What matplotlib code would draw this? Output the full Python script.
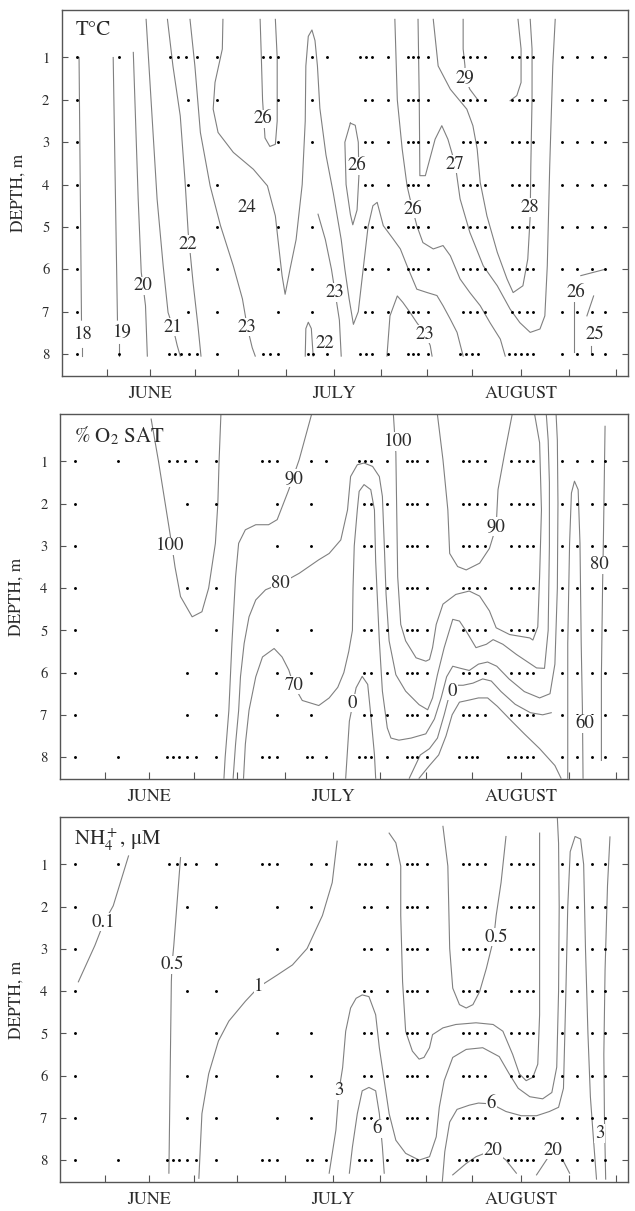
import matplotlib.pyplot as plt

plt.rcParams['font.family'] = ['STIXGeneral', 'DejaVu Serif']
plt.rcParams['mathtext.fontset'] = 'stix'

# x = days after May 31, y = depth (m)
depths = [1, 2, 3, 4, 5, 6, 7, 8]
surface_dates = [4.6, 11.5, 19.9, 21.2, 22.5, 24.3, 27.6, 35.1, 36.2, 37.6, 43.1, 45.6,
                 51.0, 52.0, 53.0, 55.6, 58.9, 59.7, 60.5, 62.1, 67.9, 69.0, 70.2, 71.5,
                 75.9, 77.1, 78.4, 79.4, 84.1, 86.6, 89.0, 91.2]
bottom_dates = [4.6, 11.5, 19.6, 20.6, 21.6, 22.9, 24.3, 27.6, 35.1, 36.2, 37.6, 42.5, 43.3,
                45.6, 51.0, 52.0, 53.0, 55.6, 58.9, 59.7, 60.5, 62.1, 67.4, 68.4, 69.4, 70.3,
                75.4, 76.4, 77.4, 78.4, 79.4, 84.1, 86.6, 89.0, 91.2]
early_dates = {2: [4.6, 22.8, 27.6, 37.6, 43.1],
               3: [4.6, 37.6, 43.1],
               4: [4.6, 22.8, 27.6],
               5: [4.6, 27.6, 37.6, 43.1],
               6: [4.6, 22.8, 27.6, 37.6, 43.1],
               7: [4.6, 22.8, 27.6, 37.6, 43.1]}
late_dates = [51.8, 53.0, 55.6, 58.9, 59.7, 60.5, 62.1, 67.9, 69.0, 70.2, 71.5, 75.9, 77.1,
              78.4, 79.4, 84.1, 86.6, 89.0, 91.2]

month_names = ['JUNE', 'JULY', 'AUGUST']
month_mid = [16.6, 46.7, 77.4]
tick_days = [9.5, 16.6, 24, 31, 38.9, 46.7, 54.4, 62, 69.4, 77.4, 85.3, 93]

# ---- temperature isotherms ----
t18 = [(4.9, 1.0), (5.3, 7.2)]
t18s = [(5.4, 7.85), (5.4, 8.05)]
t19 = [(10.5, 1.0), (11.2, 7.2)]
t19s = [(11.5, 7.77), (11.5, 8.05)]
t20 = [(13.8, 0.88), (14.6, 4.34), (15.1, 6.07), (15.4, 6.39), (15.8, 6.86), (16.1, 8.05)]
t21 = [(15.9, 0.1), (16.7, 1.98), (17.7, 4.34), (18.7, 5.92), (19.5, 7.02), (20.3, 7.37),
       (21.0, 7.8), (21.5, 8.05)]
t22 = [(19.4, 0.1), (20.3, 1.2), (21.5, 2.38), (22.3, 3.95), (22.8, 5.13), (23.6, 6.31),
       (24.4, 7.33), (24.9, 8.05)]
t23 = [(23.1, 0.1), (23.9, 1.2), (24.8, 2.77), (26.4, 4.03), (28.1, 4.97), (30.2, 5.92),
       (31.7, 6.7), (32.5, 7.37), (33.3, 7.85), (33.8, 8.05)]
t24 = [(28.5, 0.1), (28.4, 0.8), (27.2, 1.59), (26.9, 2.22), (27.7, 2.77), (30.2, 3.24),
       (33.5, 3.64), (35.8, 4.03), (37.1, 4.74), (37.7, 5.52), (38.2, 6.15), (38.7, 6.59),
       (39.5, 6.0), (40.5, 5.3), (41.5, 4.0), (42.0, 2.5), (42.1, 1.2), (42.5, 0.5),
       (43.1, 0.35), (43.6, 0.6), (44.0, 1.2), (44.4, 2.2), (45.4, 3.3), (46.6, 4.2),
       (47.9, 5.3), (48.5, 6.0), (49.2, 6.7), (49.9, 7.3), (50.7, 7.0), (51.5, 6.0),
       (52.3, 5.0), (53.1, 4.5), (53.8, 4.42), (54.8, 4.97), (56.4, 5.28), (57.6, 5.52),
       (58.7, 5.92), (60.3, 6.47), (62.0, 6.55), (63.6, 6.62), (64.6, 6.86), (65.8, 7.18),
       (66.9, 7.49), (67.9, 8.05)]
t26a = [(34.6, 0.1), (34.8, 1.0), (35.0, 2.0), (35.4, 2.9), (36.2, 3.1), (37.1, 3.05),
        (37.4, 2.5), (37.4, 1.0), (37.1, 0.1)]
t23b = [(44.1, 4.7), (45.3, 5.3), (46.3, 6.0), (46.9, 6.55), (47.6, 7.2), (47.9, 8.05)]
t22b = [(42.0, 8.05), (42.1, 7.4), (42.5, 7.25), (43.0, 7.4), (43.3, 8.05)]
t26b = [(49.4, 2.55), (48.5, 3.0), (48.7, 4.0), (49.4, 4.7), (49.8, 4.95), (50.5, 4.6),
        (50.8, 3.8), (50.7, 3.0), (50.2, 2.6), (49.4, 2.55)]
t26c = [(56.7, 0.1), (57.1, 2.0), (57.9, 3.16), (58.7, 4.03), (59.2, 4.34), (60.3, 4.97),
        (61.3, 5.37), (63.0, 5.52), (64.6, 5.44), (65.8, 5.68), (67.4, 6.23), (69.0, 6.55),
        (70.7, 6.86), (72.3, 7.26), (74.0, 7.65), (74.8, 8.05)]
t23c = [(55.4, 8.05), (55.9, 7.1), (57.1, 6.63), (58.0, 6.78), (59.2, 7.02), (60.3, 7.26),
        (61.7, 7.53), (62.5, 7.8), (62.8, 8.05)]
t27 = [(60.5, 0.1), (60.7, 1.98), (60.8, 3.79), (61.7, 3.79), (63.3, 2.93), (64.4, 2.61),
       (65.4, 2.93), (66.6, 3.52), (67.4, 4.34), (69.0, 5.13), (71.2, 5.92), (73.5, 6.39),
       (75.6, 6.94), (77.2, 7.26), (78.9, 7.49), (80.5, 7.41), (81.3, 7.1), (81.7, 5.92),
       (82.1, 3.56), (82.6, 1.2), (83.0, 0.1)]
t28 = [(63.0, 0.1), (63.8, 1.2), (65.8, 1.75), (68.5, 2.22), (69.5, 2.61), (70.2, 3.16),
       (70.7, 3.95), (71.8, 4.74), (73.5, 5.6), (75.1, 6.23), (76.1, 6.55), (77.7, 6.39),
       (78.5, 5.76), (78.9, 4.74), (79.0, 3.56), (79.2, 1.98), (79.2, 0.8), (78.9, 0.1)]
t29a = [(67.9, 0.1), (67.9, 0.8), (68.2, 1.2), (68.2, 1.47), (69.0, 1.75), (70.2, 1.98)]
t29b = [(76.9, 0.1), (77.4, 0.8), (77.4, 1.59), (76.7, 1.9), (75.6, 2.02)]
t26r = [(87.2, 6.15), (91.2, 6.0)]
t26s = [(86.1, 6.78), (86.1, 7.96)]
t25r = [(89.3, 6.63), (88.2, 7.1)]
t25s = [(88.9, 7.8), (88.9, 8.0)]
temp_lines = [t18, t18s, t19, t19s, t20, t21, t22, t23, t24, t26a, t23b, t22b, t26b, t26c,
              t23c, t27, t28, t29a, t29b, t26r, t26s, t25r, t25s]
temp_labels = [('18', 5.6, 7.55), ('19', 12.0, 7.5), ('20', 15.4, 6.39), ('21', 20.3, 7.37),
               ('22', 22.8, 5.41), ('23', 32.5, 7.37), ('24', 32.5, 4.55), ('26', 35.0, 2.45),
               ('26', 50.5, 3.56), ('23', 46.9, 6.55), ('22', 45.3, 7.75), ('26', 59.7, 4.58),
               ('23', 61.7, 7.53), ('27', 66.6, 3.52), ('29', 68.2, 1.47), ('28', 78.9, 4.54),
               ('26', 86.4, 6.55), ('25', 89.5, 7.53)]

# ---- oxygen saturation ----
o100a = [(17.0, 0.0), (18.2, 1.0), (19.3, 2.0), (20.4, 3.0), (20.9, 3.5), (21.8, 4.2),
         (23.7, 4.68), (25.3, 4.56), (26.4, 4.0), (27.5, 2.94), (27.9, 2.0), (28.1, 1.0),
         (28.4, -0.1)]
o90a = [(43.2, -0.1), (41.2, 0.96), (39.5, 1.67), (37.6, 2.38), (36.2, 2.5), (34.1, 2.5),
        (32.4, 2.62), (31.3, 2.94), (30.8, 3.73), (30.2, 5.31), (29.7, 6.9), (29.1, 8.0),
        (28.9, 8.5)]
o80 = [(30.4, 8.5), (30.8, 7.69), (31.3, 6.9), (31.6, 6.1), (32.2, 5.31), (33.0, 4.68),
       (34.1, 4.28), (35.7, 4.04), (38.2, 3.89), (41.2, 3.65), (44.4, 3.33), (46.1, 3.18),
       (48.0, 2.86), (49.1, 2.15), (49.6, 1.36), (50.7, 1.08), (51.8, 1.04), (53.2, 1.12),
       (54.3, 1.36), (54.8, 1.83), (55.1, 2.94), (55.4, 4.15), (55.9, 5.25), (57.0, 6.05),
       (58.6, 6.44), (60.8, 6.76), (62.2, 6.88), (63.0, 6.60), (63.8, 6.05), (64.9, 5.41),
       (66.3, 4.74), (67.4, 4.78), (68.5, 5.02), (70.1, 5.41), (71.8, 5.33), (72.9, 5.22),
       (74.5, 5.33), (76.7, 5.57), (80.0, 5.89), (81.3, 5.9), (81.9, 5.0), (82.1, 3.0),
       (82.1, 1.5), (81.9, 0.5), (81.6, -0.1)]
o70 = [(32.1, 8.5), (32.4, 7.69), (33.0, 6.89), (34.1, 6.10), (35.2, 5.63), (37.1, 5.43),
       (38.4, 5.63), (39.5, 5.94), (40.3, 6.30), (41.7, 6.66), (44.4, 6.78), (46.1, 6.6),
       (47.5, 6.35), (48.5, 6.0), (49.3, 5.5), (49.9, 5.0), (50.0, 4.0), (50.2, 3.0),
       (50.7, 2.15), (51.0, 1.71), (51.8, 1.55), (52.9, 1.67), (53.5, 2.15), (53.7, 3.36),
       (54.3, 5.25), (54.8, 6.44), (55.6, 7.31), (56.2, 7.55), (57.5, 7.6), (59.5, 7.55),
       (61.9, 7.45), (63.3, 7.1), (64.4, 6.6), (65.3, 6.1), (66.3, 5.85), (67.6, 5.9),
       (69.0, 5.95), (70.5, 5.8), (72.0, 5.75), (73.5, 5.85), (75.5, 6.15), (78.0, 6.45),
       (80.5, 6.6), (82.2, 6.5), (83.0, 5.8), (83.4, 4.0), (83.5, 2.0), (83.4, 0.5),
       (83.2, -0.1)]
o_small = [(48.8, 8.5), (49.4, 7.15), (50.5, 6.36), (51.5, 6.09), (52.4, 6.28), (52.9, 7.0),
           (53.5, 7.94), (53.7, 8.5)]
o100b = [(56.6, -0.1), (57.0, 0.8), (57.3, 3.73), (57.8, 4.86), (58.6, 5.25), (60.3, 5.65),
         (61.9, 5.73), (62.5, 5.69), (63.0, 5.41), (63.6, 4.86), (64.7, 4.38), (66.8, 4.15),
         (69.0, 4.07), (70.7, 4.19), (72.3, 4.54), (73.4, 4.94), (75.6, 5.10), (78.9, 5.18),
         (79.4, 5.23), (80.2, 4.92), (80.5, 3.73), (80.8, 2.15), (80.5, 0.56), (79.7, -0.1)]
o90b = [(63.8, -0.1), (64.7, 0.96), (65.5, 2.15), (65.8, 3.18), (67.1, 3.49), (68.5, 3.57),
        (70.7, 3.41), (72.3, 3.06), (73.4, 2.54), (73.7, 1.67), (74.8, 0.80), (76.0, -0.1)]
o_pair_a = [(59.2, 8.5), (61.0, 7.95), (62.5, 7.8), (63.8, 7.55), (64.9, 7.0), (65.8, 6.5),
            (66.8, 6.3), (68.0, 6.3), (69.6, 6.25), (71.2, 6.15), (72.6, 6.2), (74.2, 6.45),
            (76.5, 6.75), (79.0, 6.95), (81.0, 7.0), (82.4, 6.95)]
o_pair_b = [(60.8, 8.5), (62.5, 8.2), (64.0, 7.95), (65.2, 7.5), (66.2, 7.0), (67.4, 6.7),
            (69.0, 6.65), (70.5, 6.6), (72.0, 6.6), (73.6, 6.8), (75.6, 7.1), (78.0, 7.45),
            (80.5, 7.8), (83.0, 8.2), (84.0, 8.5)]
o60 = [(85.1, 8.5), (85.1, 5.31), (85.4, 2.94), (85.7, 1.75), (86.2, 1.47), (86.8, 1.67),
       (87.1, 2.94), (87.3, 5.31), (87.5, 6.89), (87.6, 8.5)]
o80r = [(91.2, 0.17), (91.0, 2.15), (90.9, 3.10), (90.8, 3.89), (90.6, 6.10), (90.6, 8.08)]
oxy_lines = [o100a, o90a, o80, o70, o_small, o100b, o90b, o_pair_a, o_pair_b, o60, o80r]
oxy_labels = [('100', 20.1, 3.0), ('90', 40.3, 1.4), ('80', 38.2, 3.89), ('70', 40.3, 6.30),
              ('0', 49.9, 6.72), ('100', 57.3, 0.53), ('90', 73.4, 2.54), ('0', 66.3, 6.44),
              ('60', 87.9, 7.21), ('80', 90.3, 3.45)]

# ---- ammonium ----
n01 = [(13.3, 0.8), (10.8, 1.98), (9.2, 2.4), (7.8, 2.92), (5.1, 3.78)]
n05a = [(21.8, 0.84), (20.7, 2.92), (20.4, 3.38), (20.3, 3.78), (19.9, 8.31)]
n1a = [(24.8, 8.43), (25.3, 6.9), (26.4, 5.96), (28.0, 5.18), (29.7, 4.71), (32.4, 4.24),
       (34.6, 3.9), (37.6, 3.62), (40.1, 3.38), (42.5, 2.99), (45.0, 2.21), (46.6, 1.43),
       (47.4, 0.45)]
n3 = [(46.1, 8.31), (47.2, 7.29), (47.7, 6.36), (48.3, 5.81), (48.8, 4.95), (49.6, 4.40),
      (50.5, 4.17), (51.5, 4.09), (52.6, 4.13), (53.7, 4.56), (54.3, 5.34), (55.1, 6.12),
      (55.9, 6.90), (57.0, 7.53), (58.6, 7.84), (60.8, 8.0), (62.5, 7.92), (63.6, 7.45),
      (64.1, 6.75), (64.9, 6.12), (66.3, 5.57), (68.5, 5.38), (71.2, 5.34), (73.9, 5.55),
      (75.5, 5.95), (77.0, 6.3), (78.9, 6.5), (81.0, 6.55), (82.5, 6.4), (83.3, 5.8),
      (83.6, 4.0), (83.7, 2.0), (83.6, 0.5), (83.4, -0.1)]
n1b = [(55.9, 0.26), (57.0, 0.49), (57.8, 1.04), (57.8, 2.21), (58.1, 3.78), (58.6, 4.95),
       (59.7, 5.42), (60.8, 5.61), (61.6, 5.57), (62.5, 5.34), (63.0, 5.03), (64.7, 4.87),
       (66.8, 4.79), (70.1, 4.75), (72.9, 4.79), (74.5, 4.95), (76.1, 5.50), (77.2, 5.96),
       (78.3, 6.12), (79.4, 6.04), (80.2, 5.73), (80.5, 4.56), (80.5, 2.21), (80.5, 0.26)]
n05b = [(64.7, 0.10), (65.5, 1.04), (65.8, 2.99), (66.3, 3.93), (67.4, 4.32), (68.5, 4.40),
        (69.6, 4.32), (70.7, 4.01), (71.8, 3.46), (73.0, 2.75), (73.4, 2.21), (74.2, 1.43),
        (75.0, 0.34)]
n6a = [(49.4, 8.31), (49.9, 7.69), (50.7, 6.90), (51.5, 6.36), (52.6, 6.28), (53.7, 6.36),
       (54.3, 6.9), (54.8, 7.69), (55.1, 8.31)]
n6b = [(64.6, 8.5), (65.0, 7.8), (65.8, 7.1), (67.0, 6.8), (69.0, 6.7), (70.5, 6.65),
       (72.6, 6.67), (75.0, 6.85), (77.5, 6.95), (80.0, 6.95), (82.1, 6.85), (83.6, 6.75),
       (84.4, 6.3), (84.8, 4.0), (85.1, 2.0), (85.5, 0.7), (86.3, 0.34), (87.2, 0.4),
       (87.7, 1.0), (88.0, 3.0), (88.4, 5.0), (88.8, 6.5), (89.3, 7.5), (89.8, 8.45)]
n20a = [(66.3, 8.35), (68.5, 8.08), (70.1, 7.92), (72.9, 7.76), (75.0, 8.0), (76.7, 8.31)]
n20b = [(80.0, 8.35), (81.6, 8.0), (82.7, 7.76), (84.3, 8.0), (85.4, 8.31)]
n_edge = [(92.0, 0.35), (91.6, 1.5), (91.2, 3.5), (91.0, 5.5), (91.1, 7.0), (91.3, 8.45)]
nh4_lines = [n01, n05a, n1a, n3, n1b, n05b, n6a, n6b, n20a, n20b, n_edge]
nh4_labels = [('0.1', 9.2, 2.37), ('0.5', 20.4, 3.38), ('1', 34.6, 3.9), ('3', 47.7, 6.36),
              ('6', 54.0, 7.25), ('0.5', 73.4, 2.72), ('6', 72.6, 6.67), ('20', 72.9, 7.76),
              ('20', 82.7, 7.76), ('3', 90.3, 7.37)]

LINE = '#808080'
INK = '#2b2b2b'


def draw_panel(ax, lines, labels, title):
    for ln in lines:
        xs = [p[0] for p in ln]
        ys = [p[1] for p in ln]
        ax.plot(xs, ys, color=LINE, lw=0.8, zorder=2)
    # sampling points
    for d in depths:
        if d == 1:
            xs = surface_dates
        elif d == 8:
            xs = bottom_dates
        else:
            xs = early_dates[d] + late_dates
        ax.plot(xs, [d] * len(xs), 'o', color='black', ms=2.1, mew=0, zorder=3)
    for txt, x, y in labels:
        ax.text(x, y, txt, ha='center', va='center', fontsize=13.5, color=INK, zorder=5,
                bbox=dict(fc='white', ec='none', pad=0.4))
    ax.text(0.024, 0.972, title, transform=ax.transAxes, ha='left', va='top',
            fontsize=15, color=INK, zorder=6)

    ax.set_xlim(2.1, 94.9)
    ax.set_ylim(8.52, -0.12)
    ax.set_yticks(depths)
    ax.set_yticklabels([str(d) for d in depths], fontsize=10.5, color=INK)
    ax.set_xticks(tick_days)
    ax.set_xticklabels([month_names[month_mid.index(t)] if t in month_mid else ''
                        for t in tick_days], fontsize=13, color=INK)
    ax.tick_params(axis='x', direction='in', length=5, pad=7, color='#555555')
    ax.tick_params(axis='y', direction='in', length=4, pad=9, color='#555555', right=True)
    ax.set_ylabel('DEPTH, m', fontsize=12.5, color=INK, labelpad=11)
    for s in ax.spines.values():
        s.set_color('#555555')
        s.set_linewidth(1.0)


fig = plt.figure(figsize=(6.35, 12.11), dpi=100)
ax1 = fig.add_axes([0.0976, 0.6895, 0.891, 0.3022])
ax2 = fig.add_axes([0.0945, 0.3567, 0.894, 0.3014])
ax3 = fig.add_axes([0.0945, 0.0239, 0.894, 0.3014])

draw_panel(ax1, temp_lines, temp_labels, 'T°C')
draw_panel(ax2, oxy_lines, oxy_labels, r'% O$_2$ SAT')
draw_panel(ax3, nh4_lines, nh4_labels, r'NH$_4^+$, μM')

fig.savefig('out.png', dpi=100)
